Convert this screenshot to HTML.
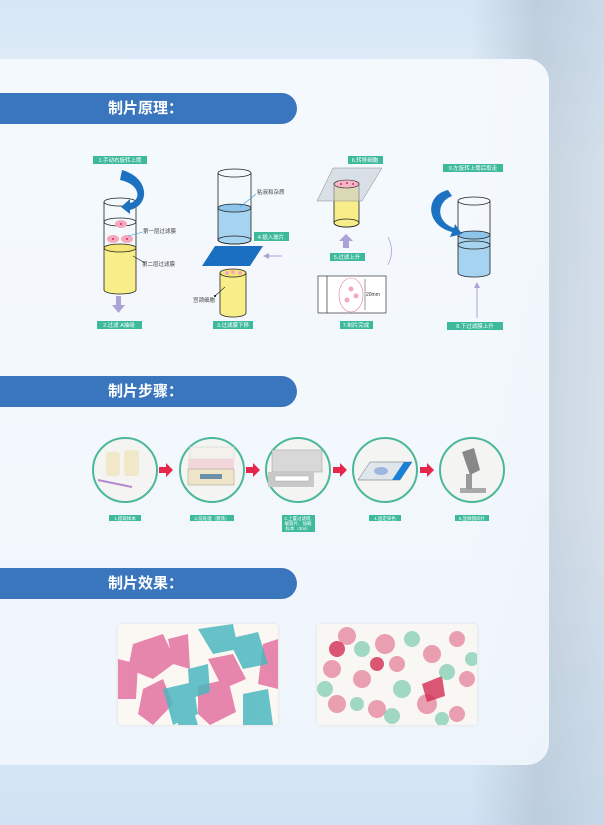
<!DOCTYPE html>
<html><head><meta charset="utf-8"><style>
body{margin:0;width:604px;height:825px;overflow:hidden;font-family:"Liberation Sans","Noto Sans CJK SC",sans-serif;}
.bg{position:absolute;left:0;top:0;width:604px;height:825px;background:linear-gradient(180deg,#d5e6f5 0%,#e9f2fa 20%,#eef4fa 60%,#cfe3f4 100%);}
.mic{position:absolute;left:470px;top:0;width:134px;height:825px;background:linear-gradient(90deg,rgba(200,212,225,0) 0%,rgba(175,190,205,.6) 50%,rgba(190,205,220,.5) 100%);}
.card{position:absolute;left:0;top:59px;width:549px;height:706px;background:linear-gradient(180deg,rgba(246,250,254,.95),rgba(240,246,252,.93));border-radius:0 22px 22px 0;}
.hdr{position:absolute;left:0;width:297px;height:31px;background:#3a76bd;border-radius:0 16px 16px 0;color:#fff;font-weight:bold;font-size:15px;line-height:31px;text-indent:108px;}
.pic{position:absolute;width:160px;height:101px;border-radius:4px;overflow:hidden;background:#fbf8f4;box-shadow:0 0 3px #ddd;}
</style></head><body>
<div class="bg"></div><div class="mic"></div>
<div class="card"></div>
<div class="hdr" style="top:93px">制片原理：</div>
<div class="hdr" style="top:376px">制片步骤：</div>
<div class="hdr" style="top:568px">制片效果：</div>
<svg width="604" height="825" style="position:absolute;left:0;top:0" font-family="Liberation Sans,Noto Sans CJK SC,sans-serif">
<defs>
<marker id="pa" markerWidth="6" markerHeight="6" refX="3" refY="3" orient="auto"><path d="M0,0L6,3L0,6z" fill="#a9a3d6"/></marker>
</defs>
<g font-size="5.5" fill="#fff" text-anchor="middle">
<rect x="93" y="156" width="54" height="8" fill="#3db99b"/><text x="120" y="162">1.手动右旋转上筒</text>
<rect x="97" y="321" width="45" height="8" fill="#3db99b"/><text x="119" y="327">2.过滤 A抽吸</text>
<rect x="254" y="232" width="35" height="9" fill="#3db99b"/><text x="271" y="239">4.插入玻片</text>
<rect x="213" y="321" width="40" height="8" fill="#3db99b"/><text x="233" y="327">3.过滤膜下移</text>
<rect x="348" y="156" width="35" height="8" fill="#3db99b"/><text x="365" y="162">6.转移细胞</text>
<rect x="330" y="253" width="35" height="8" fill="#3db99b"/><text x="347" y="259">5.过滤上升</text>
<rect x="340" y="321" width="33" height="8" fill="#3db99b"/><text x="356" y="327">7.制片完成</text>
<rect x="443" y="164" width="60" height="8" fill="#3db99b"/><text x="473" y="170">9.左旋转上筒后取走</text>
<rect x="447" y="322" width="56" height="8" fill="#3db99b"/><text x="475" y="328">8.下过滤膜上升</text>
</g>
<!-- cyl1 -->
<g stroke="#222" stroke-width="0.8">
<path d="M104,248 L104,290 A16,4 0 0 0 136,290 L136,248 Z" fill="#f7ee8a"/>
<ellipse cx="120" cy="248" rx="16" ry="4" fill="#f3e677"/>
<line x1="104" y1="202" x2="104" y2="248"/><line x1="136" y1="202" x2="136" y2="248"/>
<ellipse cx="120" cy="202" rx="16" ry="4" fill="none"/>
<ellipse cx="120" cy="222" rx="16" ry="4" fill="none"/>
</g>
<g fill="#f5a9bd"><ellipse cx="121" cy="224" rx="6" ry="4"/><ellipse cx="113" cy="239" rx="6" ry="4"/><ellipse cx="127" cy="239" rx="6" ry="4"/></g>
<g fill="#d8246c"><circle cx="121" cy="224" r="1"/><circle cx="113" cy="239" r="1"/><circle cx="127" cy="239" r="1"/></g>
<path d="M122,170 C150,178 150,205 130,210 L130,214 L121,207 L130,199 L130,203 C142,200 140,184 120,180 Z" fill="#1c72c0"/>
<line x1="128" y1="236" x2="143" y2="232" stroke="#3a9be0" stroke-width="0.6"/>
<text x="143" y="233" font-size="5.5" fill="#444">第一层过滤膜</text>
<line x1="133" y1="256" x2="145" y2="263" stroke="#222" stroke-width="0.6"/>
<text x="142" y="266" font-size="5.5" fill="#444">第二层过滤膜</text>
<path d="M116,296 L121,296 L121,305 L125,305 L118.5,313 L112,305 L116,305Z" fill="#a9a3d6"/>
<!-- cyl2 -->
<g stroke="#222" stroke-width="0.8">
<path d="M218,208 L218,240 A16.5,4 0 0 0 251,240 L251,208 Z" fill="#a6d3ef"/>
<ellipse cx="234.5" cy="208" rx="16.5" ry="4" fill="#8cc4ea"/>
<line x1="218" y1="173" x2="218" y2="208"/><line x1="251" y1="173" x2="251" y2="208"/>
<ellipse cx="234.5" cy="173" rx="16.5" ry="4" fill="none"/>
<ellipse cx="234.5" cy="240" rx="16.5" ry="4" fill="none"/>
</g>
<line x1="240" y1="207" x2="256" y2="194" stroke="#3a9be0" stroke-width="0.6"/>
<text x="257" y="194" font-size="5.5" fill="#444">粘液和杂质</text>
<path d="M215,246 L263,246 L250,266 L202,266Z" fill="#1b6fc0"/>
<line x1="282" y1="256" x2="266" y2="256" stroke="#a9a3d6" stroke-width="1" marker-end="url(#pa)"/>
<g stroke="#222" stroke-width="0.8">
<path d="M220,273 L220,313 A13,4 0 0 0 246,313 L246,273 Z" fill="#f7ee8a"/>
<ellipse cx="233" cy="273" rx="13" ry="4" fill="#f3e677"/>
</g>
<g fill="#f5a9bd"><circle cx="227" cy="273" r="2"/><circle cx="233" cy="272" r="2"/><circle cx="240" cy="273" r="2"/></g>
<line x1="215" y1="296" x2="225" y2="287" stroke="#222" stroke-width="0.6"/><circle cx="215" cy="296" r="1"/>
<text x="193" y="302" font-size="5.5" fill="#444">宫颈细胞</text>
<!-- cyl4 -->
<g stroke="#222" stroke-width="0.8">
<path d="M334,183 L334,223 A12.5,4 0 0 0 359,223 L359,183 Z" fill="#f7ee8a"/>
<ellipse cx="346.5" cy="223" rx="12.5" ry="4" fill="none"/>
</g>
<path d="M317,201 L333,168 L382,168 L362,201Z" fill="#c7cdd6" fill-opacity="0.6" stroke="#888" stroke-width="0.5"/>
<ellipse cx="346.5" cy="184" rx="12.5" ry="4" fill="#f5b7c6" stroke="#222" stroke-width="0.6"/>
<g fill="#d8246c"><circle cx="341" cy="184" r="1"/><circle cx="347" cy="183" r="1"/><circle cx="353" cy="184" r="1"/></g>
<path d="M343,248 L343,241 L339,241 L346,234 L353,241 L349,241 L349,248Z" fill="#a9a3d6"/>
<path d="M388,237 Q395,251 388,265" stroke="#a9a3d6" fill="none" stroke-width="0.8"/>
<rect x="318" y="276" width="68" height="37" fill="#fff" stroke="#333" stroke-width="0.7"/>
<line x1="327" y1="276" x2="327" y2="313" stroke="#333" stroke-width="0.7"/>
<ellipse cx="351" cy="295" rx="12" ry="17" fill="none" stroke="#e17aa0" stroke-width="0.6"/>
<g fill="#f5a9bd"><circle cx="351" cy="289" r="2.5"/><circle cx="356" cy="296" r="2.5"/><circle cx="347" cy="300" r="2.5"/></g>
<line x1="365" y1="279" x2="365" y2="310" stroke="#333" stroke-width="0.5"/>
<text x="366" y="296" font-size="5" fill="#333">20mm</text>
<!-- cyl5 -->
<g stroke="#222" stroke-width="0.8">
<path d="M458,235 L458,273 A16,4 0 0 0 490,273 L490,235 Z" fill="#a6d3ef"/>
<ellipse cx="474" cy="235" rx="16" ry="4" fill="#8cc4ea"/>
<line x1="458" y1="201" x2="458" y2="235"/><line x1="490" y1="201" x2="490" y2="235"/>
<ellipse cx="474" cy="201" rx="16" ry="4" fill="none"/>
<ellipse cx="474" cy="245" rx="16" ry="4" fill="none"/>
</g>
<path d="M448,190 C425,195 425,225 452,232 L450,237 L462,234 L455,224 L454,228 C436,222 436,202 452,196Z" fill="#1c72c0"/>
<line x1="477" y1="318" x2="477" y2="285" stroke="#a9a3d6" stroke-width="1" marker-end="url(#pa)"/>
<!-- steps -->
<g stroke="#4cb89a" stroke-width="2" fill="#f4f4f2">
<circle cx="125" cy="470" r="32"/><circle cx="212" cy="470" r="32"/><circle cx="298" cy="470" r="32"/><circle cx="385" cy="470" r="32"/><circle cx="472" cy="470" r="32"/>
</g>
<g fill="#e8264c">
<path d="M159,467 L166,467 L166,463 L173,470 L166,477 L166,473 L159,473Z"/>
<path d="M246,467 L253,467 L253,463 L260,470 L253,477 L253,473 L246,473Z"/>
<path d="M333,467 L340,467 L340,463 L347,470 L340,477 L340,473 L333,473Z"/>
<path d="M420,467 L427,467 L427,463 L434,470 L427,477 L427,473 L420,473Z"/>
</g>
<!-- step icons -->
<rect x="106" y="452" width="14" height="24" rx="3" fill="#f0e8c8"/><rect x="124" y="450" width="15" height="26" rx="3" fill="#f0e8c8"/>
<line x1="98" y1="480" x2="132" y2="487" stroke="#b48ad0" stroke-width="2"/>
<rect x="190" y="447" width="44" height="12" fill="#f5f2ee" stroke="#ccc" stroke-width="0.5"/>
<rect x="188" y="459" width="46" height="10" fill="#f3d6da"/>
<rect x="188" y="469" width="46" height="16" fill="#efe4c8" stroke="#999" stroke-width="0.5"/>
<rect x="200" y="474" width="22" height="5" fill="#6a8fa8"/>
<rect x="272" y="450" width="50" height="22" fill="#d8d8d8" stroke="#999" stroke-width="0.5"/>
<rect x="268" y="472" width="46" height="15" fill="#c8c8c8"/>
<rect x="275" y="476" width="34" height="5" fill="#fff" stroke="#999" stroke-width="0.4"/>
<path d="M358,480 L370,462 L412,462 L400,480Z" fill="#dfe6ec" stroke="#667" stroke-width="0.5"/>
<path d="M392,480 L404,462 L412,462 L400,480Z" fill="#1a7fd6"/>
<ellipse cx="381" cy="471" rx="7" ry="4" fill="#9db6e0"/>
<path d="M462,452 L474,448 L480,470 L470,475 Z" fill="#888"/><rect x="460" y="488" width="26" height="5" fill="#aaa"/><rect x="466" y="474" width="6" height="15" fill="#999"/>
<g font-size="4.5" fill="#fff" text-anchor="middle">
<rect x="109" y="515" width="32" height="6" fill="#3db99b"/><text x="125" y="520">1.提取样本</text>
<rect x="190" y="515" width="44" height="6" fill="#3db99b"/><text x="212" y="520">2.前处理（震荡）</text>
<rect x="282" y="515" width="33" height="17" fill="#3db99b"/><text x="298" y="520">3.上置过滤筒,</text><text x="298" y="525">载玻片、加载</text><text x="298" y="530">标本（3ml）</text>
<rect x="369" y="515" width="32" height="6" fill="#3db99b"/><text x="385" y="520">4.固定染色</text>
<rect x="455" y="515" width="34" height="6" fill="#3db99b"/><text x="472" y="520">5.显微镜阅片</text>
</g>
</svg>
<div class="pic" style="left:118px;top:624px">
<svg width="160" height="101">
<rect width="160" height="101" fill="#fbf8f4"/>
<g fill="#e57aa6" opacity=".9">
<path d="M15,20 L45,10 L58,38 L35,55 L10,45Z"/><path d="M50,15 L70,10 L72,45 L55,40Z"/><path d="M0,35 L20,40 L18,75 L0,75Z"/>
<path d="M25,65 L45,55 L55,80 L35,101 L20,90Z"/><path d="M80,62 L110,55 L118,88 L92,101 L80,90Z"/><path d="M90,35 L115,30 L128,55 L105,65Z"/><path d="M145,20 L160,15 L160,65 L140,60Z"/>
</g>
<g fill="#4cb8c0" opacity=".85">
<path d="M80,5 L115,0 L120,25 L95,30Z"/><path d="M110,15 L140,8 L150,40 L125,45Z"/><path d="M70,45 L90,40 L92,68 L72,75Z"/><path d="M45,65 L75,58 L80,90 L55,101Z"/><path d="M125,70 L150,65 L155,101 L125,101Z"/><path d="M60,90 L75,85 L80,101 L60,101Z"/>
</g>
</svg></div>
<div class="pic" style="left:317px;top:624px">
<svg width="160" height="101">
<rect width="160" height="101" fill="#f8f7f3"/>
<g fill="#e5899f" opacity=".8">
<circle cx="30" cy="12" r="9"/><circle cx="68" cy="20" r="10"/><circle cx="15" cy="45" r="9"/><circle cx="45" cy="55" r="9"/><circle cx="80" cy="40" r="8"/><circle cx="115" cy="30" r="9"/><circle cx="140" cy="15" r="8"/><circle cx="20" cy="80" r="9"/><circle cx="60" cy="85" r="9"/><circle cx="110" cy="80" r="10"/><circle cx="150" cy="55" r="8"/><circle cx="140" cy="90" r="8"/>
</g>
<g fill="#d42e54" opacity=".8"><path d="M105,60 L125,52 L128,72 L110,78Z"/><circle cx="20" cy="25" r="8"/><circle cx="60" cy="40" r="7"/></g>
<g fill="#7ccab0" opacity=".7">
<circle cx="45" cy="25" r="8"/><circle cx="95" cy="15" r="8"/><circle cx="85" cy="65" r="9"/><circle cx="130" cy="48" r="8"/><circle cx="8" cy="65" r="8"/><circle cx="40" cy="80" r="7"/><circle cx="75" cy="92" r="8"/><circle cx="155" cy="35" r="7"/><circle cx="125" cy="95" r="7"/>
</g>
</svg></div>
</body></html>
